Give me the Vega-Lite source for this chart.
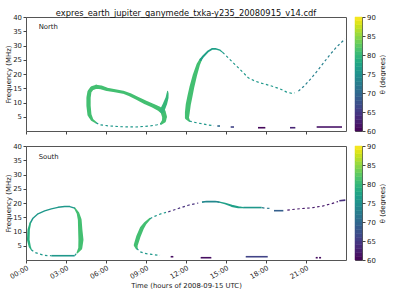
{
  "$schema": "https://vega.github.io/schema/vega-lite/v6.json",
  "autosize": {"type": "pad"},
  "padding": {"left": 4, "top": 8, "right": 0, "bottom": 0},
  "datasets": {
    "c": [
      {"p":"N","s":"N_L1","k":"band","i":1,"t":5.25,"f":2.9,"th":81,"w":0.12},
      {"p":"N","s":"N_L1","k":"band","i":2,"t":4.95,"f":3.96,"th":81,"w":0.2},
      {"p":"N","s":"N_L1","k":"band","i":3,"t":4.76,"f":5.7,"th":81,"w":0.3},
      {"p":"N","s":"N_L1","k":"band","i":4,"t":4.69,"f":8.86,"th":81,"w":0.32},
      {"p":"N","s":"N_L1","k":"band","i":5,"t":4.69,"f":11.7,"th":81,"w":0.32},
      {"p":"N","s":"N_L1","k":"band","i":6,"t":4.76,"f":13.8,"th":81,"w":0.3},
      {"p":"N","s":"N_L1","k":"band","i":7,"t":4.95,"f":15.0,"th":81,"w":0.3},
      {"p":"N","s":"N_L1","k":"band","i":8,"t":5.25,"f":15.5,"th":81,"w":0.3},
      {"p":"N","s":"N_L1","k":"band","i":9,"t":5.63,"f":15.3,"th":81,"w":0.28},
      {"p":"N","s":"N_L1","k":"band","i":10,"t":6.08,"f":14.6,"th":81,"w":0.25},
      {"p":"N","s":"N_L1","k":"band","i":11,"t":6.68,"f":14.1,"th":81,"w":0.22},
      {"p":"N","s":"N_L1","k":"band","i":12,"t":7.28,"f":13.6,"th":81,"w":0.22},
      {"p":"N","s":"N_L1","k":"band","i":13,"t":7.8,"f":12.7,"th":81,"w":0.24},
      {"p":"N","s":"N_L1","k":"band","i":14,"t":8.33,"f":11.5,"th":81,"w":0.26},
      {"p":"N","s":"N_L1","k":"band","i":15,"t":8.93,"f":10.1,"th":81,"w":0.28},
      {"p":"N","s":"N_L1","k":"band","i":16,"t":9.53,"f":8.86,"th":81,"w":0.3},
      {"p":"N","s":"N_L1","k":"band","i":17,"t":9.98,"f":7.8,"th":81,"w":0.33},
      {"p":"N","s":"N_L1","k":"band","i":18,"t":10.28,"f":6.76,"th":81,"w":0.38},
      {"p":"N","s":"N_L1","k":"band","i":19,"t":10.39,"f":5.0,"th":81,"w":0.36},
      {"p":"N","s":"N_L1","k":"band","i":20,"t":10.35,"f":3.6,"th":81,"w":0.3},
      {"p":"N","s":"N_L1","k":"band","i":21,"t":10.13,"f":2.55,"th":81,"w":0.15},
      {"p":"N","s":"N_S1","k":"band","i":1,"t":10.2,"f":7.1,"th":80,"w":0.35},
      {"p":"N","s":"N_S1","k":"band","i":2,"t":10.43,"f":9.56,"th":80,"w":0.3},
      {"p":"N","s":"N_S1","k":"band","i":3,"t":10.58,"f":11.66,"th":80,"w":0.22},
      {"p":"N","s":"N_S1","k":"band","i":4,"t":10.62,"f":13.2,"th":80,"w":0.15},
      {"p":"N","s":"N_S1","k":"band","i":5,"t":10.62,"f":13.9,"th":80,"w":0.08},
      {"p":"N","s":"N_A2a","k":"band","i":1,"t":12.25,"f":3.5,"th":81,"w":0.12},
      {"p":"N","s":"N_A2a","k":"band","i":2,"t":12.07,"f":4.65,"th":81,"w":0.3},
      {"p":"N","s":"N_A2a","k":"band","i":3,"t":12.1,"f":6.5,"th":81,"w":0.36},
      {"p":"N","s":"N_A2a","k":"band","i":4,"t":12.17,"f":9.3,"th":81,"w":0.38},
      {"p":"N","s":"N_A2a","k":"band","i":5,"t":12.3,"f":12.3,"th":81,"w":0.38},
      {"p":"N","s":"N_A2a","k":"band","i":6,"t":12.43,"f":15.2,"th":81,"w":0.36},
      {"p":"N","s":"N_A2a","k":"band","i":7,"t":12.68,"f":19.8,"th":81,"w":0.32},
      {"p":"N","s":"N_A2a","k":"band","i":8,"t":12.92,"f":23.3,"th":81,"w":0.26},
      {"p":"N","s":"N_A2a","k":"band","i":9,"t":13.1,"f":25.0,"th":81,"w":0.2},
      {"p":"N","s":"N_A2b","k":"band","i":1,"t":13.1,"f":25.0,"th":77,"w":0.17},
      {"p":"N","s":"N_A2b","k":"band","i":2,"t":13.3,"f":26.25,"th":77,"w":0.15},
      {"p":"N","s":"N_A2b","k":"band","i":3,"t":13.67,"f":28.0,"th":77,"w":0.14},
      {"p":"N","s":"N_A2b","k":"band","i":4,"t":13.95,"f":28.8,"th":77,"w":0.13},
      {"p":"N","s":"N_A2b","k":"band","i":5,"t":14.2,"f":28.85,"th":77,"w":0.12},
      {"p":"N","s":"N_A2b","k":"band","i":6,"t":14.55,"f":28.35,"th":77,"w":0.1},
      {"p":"N","s":"N_A2b","k":"band","i":7,"t":14.75,"f":27.6,"th":77,"w":0.07},
      {"p":"N","s":"N_D1","k":"dash","i":1,"t":5.25,"f":2.9,"th":76},
      {"p":"N","s":"N_D1","k":"dash","i":2,"t":5.55,"f":2.2,"th":76},
      {"p":"N","s":"N_D1","k":"dash","i":3,"t":6.08,"f":1.86,"th":76},
      {"p":"N","s":"N_D1","k":"dash","i":4,"t":6.45,"f":1.7,"th":76},
      {"p":"N","s":"N_D1","k":"dash","i":5,"t":7.2,"f":1.5,"th":76},
      {"p":"N","s":"N_D1","k":"dash","i":6,"t":8.18,"f":1.4,"th":76},
      {"p":"N","s":"N_D1","k":"dash","i":7,"t":9.3,"f":1.75,"th":76},
      {"p":"N","s":"N_D1","k":"dash","i":8,"t":9.83,"f":2.2,"th":76},
      {"p":"N","s":"N_D1","k":"dash","i":9,"t":10.13,"f":2.55,"th":76},
      {"p":"N","s":"N_D2","k":"dash","i":1,"t":12.25,"f":3.5,"th":76},
      {"p":"N","s":"N_D2","k":"dash","i":2,"t":12.68,"f":3.0,"th":76},
      {"p":"N","s":"N_D2","k":"dash","i":3,"t":13.18,"f":2.55,"th":76},
      {"p":"N","s":"N_D2","k":"dash","i":4,"t":13.67,"f":2.1,"th":76},
      {"p":"N","s":"N_D2","k":"dash","i":5,"t":14.1,"f":1.85,"th":76},
      {"p":"N","s":"N_D3","k":"dash","i":1,"t":14.75,"f":27.6,"th":76},
      {"p":"N","s":"N_D3","k":"dash","i":2,"t":14.93,"f":26.8,"th":76},
      {"p":"N","s":"N_D3","k":"dash","i":3,"t":15.3,"f":25.06,"th":76},
      {"p":"N","s":"N_D3","k":"dash","i":4,"t":15.68,"f":23.3,"th":76},
      {"p":"N","s":"N_D3","k":"dash","i":5,"t":16.18,"f":21.0,"th":76},
      {"p":"N","s":"N_D3","k":"dash","i":6,"t":16.67,"f":18.66,"th":76},
      {"p":"N","s":"N_D3","k":"dash","i":7,"t":17.18,"f":17.5,"th":76},
      {"p":"N","s":"N_D3","k":"dash","i":8,"t":17.55,"f":16.9,"th":76},
      {"p":"N","s":"N_D3","k":"dash","i":9,"t":18.3,"f":15.96,"th":76},
      {"p":"N","s":"N_D3","k":"dash","i":10,"t":19.05,"f":14.8,"th":76},
      {"p":"N","s":"N_D3","k":"dash","i":11,"t":19.55,"f":13.65,"th":76},
      {"p":"N","s":"N_D3","k":"dash","i":12,"t":19.93,"f":13.2,"th":76},
      {"p":"N","s":"N_D3","k":"dash","i":13,"t":20.15,"f":13.4,"th":76},
      {"p":"N","s":"N_D4","k":"dash","i":1,"t":20.43,"f":14.0,"th":73},
      {"p":"N","s":"N_D4","k":"dash","i":2,"t":20.8,"f":15.5,"th":73},
      {"p":"N","s":"N_D4","k":"dash","i":3,"t":21.3,"f":18.0,"th":73},
      {"p":"N","s":"N_D4","k":"dash","i":4,"t":21.8,"f":20.8,"th":73},
      {"p":"N","s":"N_D4","k":"dash","i":5,"t":22.3,"f":23.8,"th":73},
      {"p":"N","s":"N_D4","k":"dash","i":6,"t":22.8,"f":26.8,"th":73},
      {"p":"N","s":"N_D4","k":"dash","i":7,"t":23.3,"f":29.5,"th":73},
      {"p":"N","s":"N_D4","k":"dash","i":8,"t":23.93,"f":32.3,"th":73},
      {"p":"N","s":"N_B1","k":"bar","i":1,"t":14.35,"f":1.75,"th":70},
      {"p":"N","s":"N_B1","k":"bar","i":2,"t":14.55,"f":1.75,"th":70},
      {"p":"N","s":"N_B2","k":"bar","i":1,"t":15.35,"f":1.4,"th":66},
      {"p":"N","s":"N_B2","k":"bar","i":2,"t":15.6,"f":1.4,"th":66},
      {"p":"N","s":"N_B3","k":"bar","i":1,"t":17.4,"f":1.15,"th":60.5},
      {"p":"N","s":"N_B3","k":"bar","i":2,"t":17.95,"f":1.15,"th":60.5},
      {"p":"N","s":"N_B4","k":"bar","i":1,"t":19.8,"f":1.15,"th":63},
      {"p":"N","s":"N_B4","k":"bar","i":2,"t":20.2,"f":1.15,"th":63},
      {"p":"N","s":"N_B5","k":"bar","i":1,"t":21.8,"f":1.4,"th":61.5},
      {"p":"N","s":"N_B5","k":"bar","i":2,"t":23.7,"f":1.4,"th":61.5},

      {"p":"S","s":"S_L1","k":"band","i":1,"t":3.65,"f":18.2,"th":81,"w":0.1},
      {"p":"S","s":"S_L1","k":"band","i":2,"t":3.9,"f":16.4,"th":81,"w":0.2},
      {"p":"S","s":"S_L1","k":"band","i":3,"t":4.03,"f":14.1,"th":81,"w":0.28},
      {"p":"S","s":"S_L1","k":"band","i":4,"t":4.07,"f":10.6,"th":81,"w":0.32},
      {"p":"S","s":"S_L1","k":"band","i":5,"t":4.12,"f":7.1,"th":81,"w":0.38},
      {"p":"S","s":"S_L1","k":"band","i":6,"t":4.07,"f":4.17,"th":81,"w":0.3},
      {"p":"S","s":"S_L1","k":"band","i":7,"t":3.85,"f":2.6,"th":81,"w":0.12},
      {"p":"S","s":"S_L2","k":"band","i":1,"t":0.32,"f":12.9,"th":76,"w":0.12},
      {"p":"S","s":"S_L2","k":"band","i":2,"t":0.525,"f":14.67,"th":76,"w":0.11},
      {"p":"S","s":"S_L2","k":"band","i":3,"t":0.9,"f":16.2,"th":76,"w":0.1},
      {"p":"S","s":"S_L2","k":"band","i":4,"t":1.4,"f":17.25,"th":76,"w":0.1},
      {"p":"S","s":"S_L2","k":"band","i":5,"t":1.9,"f":17.95,"th":76,"w":0.1},
      {"p":"S","s":"S_L2","k":"band","i":6,"t":2.4,"f":18.5,"th":76,"w":0.1},
      {"p":"S","s":"S_L2","k":"band","i":7,"t":2.9,"f":18.76,"th":76,"w":0.1},
      {"p":"S","s":"S_L2","k":"band","i":8,"t":3.28,"f":18.76,"th":76,"w":0.1},
      {"p":"S","s":"S_L2","k":"band","i":9,"t":3.65,"f":18.2,"th":76,"w":0.1},
      {"p":"S","s":"S_L3","k":"band","i":1,"t":0.4,"f":3.6,"th":79,"w":0.08},
      {"p":"S","s":"S_L3","k":"band","i":2,"t":0.28,"f":4.76,"th":79,"w":0.16},
      {"p":"S","s":"S_L3","k":"band","i":3,"t":0.17,"f":7.1,"th":79,"w":0.2},
      {"p":"S","s":"S_L3","k":"band","i":4,"t":0.2,"f":10.6,"th":79,"w":0.18},
      {"p":"S","s":"S_L3","k":"band","i":5,"t":0.32,"f":12.9,"th":79,"w":0.12},
      {"p":"S","s":"S_A1","k":"band","i":1,"t":8.3,"f":4.06,"th":81,"w":0.15},
      {"p":"S","s":"S_A1","k":"band","i":2,"t":8.23,"f":5.2,"th":81,"w":0.3},
      {"p":"S","s":"S_A1","k":"band","i":3,"t":8.42,"f":8.15,"th":81,"w":0.32},
      {"p":"S","s":"S_A1","k":"band","i":4,"t":8.68,"f":11.06,"th":81,"w":0.3},
      {"p":"S","s":"S_A1","k":"band","i":5,"t":8.93,"f":12.8,"th":81,"w":0.22},
      {"p":"S","s":"S_A1","k":"band","i":6,"t":9.3,"f":14.5,"th":81,"w":0.12},
      {"p":"S","s":"S_A2","k":"band","i":1,"t":14.5,"f":20.3,"th":77,"w":0.09},
      {"p":"S","s":"S_A2","k":"band","i":2,"t":14.93,"f":19.8,"th":77,"w":0.12},
      {"p":"S","s":"S_A2","k":"band","i":3,"t":15.43,"f":19.0,"th":77,"w":0.16},
      {"p":"S","s":"S_A2","k":"band","i":4,"t":15.92,"f":18.5,"th":77,"w":0.16},
      {"p":"S","s":"S_A2","k":"band","i":5,"t":16.3,"f":18.4,"th":77,"w":0.1},
      {"p":"S","s":"S_D1","k":"dash","i":1,"t":0.4,"f":3.6,"th":76},
      {"p":"S","s":"S_D1","k":"dash","i":2,"t":0.65,"f":2.66,"th":76},
      {"p":"S","s":"S_D1","k":"dash","i":3,"t":1.03,"f":2.07,"th":76},
      {"p":"S","s":"S_D1","k":"dash","i":4,"t":1.4,"f":1.6,"th":76},
      {"p":"S","s":"S_D1","k":"dash","i":5,"t":1.9,"f":1.5,"th":76},
      {"p":"S","s":"S_D2","k":"dash","i":1,"t":3.65,"f":1.55,"th":76},
      {"p":"S","s":"S_D2","k":"dash","i":2,"t":3.85,"f":2.6,"th":76},
      {"p":"S","s":"S_D3","k":"dash","i":1,"t":8.3,"f":4.06,"th":76},
      {"p":"S","s":"S_D3","k":"dash","i":2,"t":8.55,"f":2.9,"th":76},
      {"p":"S","s":"S_D3","k":"dash","i":3,"t":8.93,"f":2.3,"th":76},
      {"p":"S","s":"S_D3","k":"dash","i":4,"t":9.43,"f":1.96,"th":76},
      {"p":"S","s":"S_D3","k":"dash","i":5,"t":10.05,"f":1.6,"th":76},
      {"p":"S","s":"S_D4","k":"dash","i":1,"t":9.3,"f":14.5,"th":76},
      {"p":"S","s":"S_D4","k":"dash","i":2,"t":9.68,"f":15.4,"th":76},
      {"p":"S","s":"S_D4","k":"dash","i":3,"t":10.18,"f":16.3,"th":76},
      {"p":"S","s":"S_D4","k":"dash","i":4,"t":10.5,"f":16.7,"th":76},
      {"p":"S","s":"S_D5","k":"dash","i":1,"t":10.67,"f":16.9,"th":64},
      {"p":"S","s":"S_D5","k":"dash","i":2,"t":11.42,"f":18.06,"th":64},
      {"p":"S","s":"S_D5","k":"dash","i":3,"t":12.17,"f":19.2,"th":64},
      {"p":"S","s":"S_D5","k":"dash","i":4,"t":12.92,"f":20.0,"th":64},
      {"p":"S","s":"S_D6","k":"dash","i":1,"t":17.7,"f":18.4,"th":72},
      {"p":"S","s":"S_D6","k":"dash","i":2,"t":17.9,"f":18.2,"th":72},
      {"p":"S","s":"S_D6","k":"dash","i":3,"t":18.43,"f":18.06,"th":72},
      {"p":"S","s":"S_D7","k":"dash","i":1,"t":19.6,"f":17.5,"th":62},
      {"p":"S","s":"S_D7","k":"dash","i":2,"t":19.93,"f":17.7,"th":62},
      {"p":"S","s":"S_D7","k":"dash","i":3,"t":20.68,"f":18.06,"th":62},
      {"p":"S","s":"S_D7","k":"dash","i":4,"t":21.43,"f":18.3,"th":62},
      {"p":"S","s":"S_D7","k":"dash","i":5,"t":22.3,"f":19.0,"th":62},
      {"p":"S","s":"S_D7","k":"dash","i":6,"t":22.93,"f":19.8,"th":62},
      {"p":"S","s":"S_D7","k":"dash","i":7,"t":23.4,"f":20.5,"th":62},
      {"p":"S","s":"S_B1","k":"bar","i":1,"t":10.85,"f":1.15,"th":61},
      {"p":"S","s":"S_B1","k":"bar","i":2,"t":11.05,"f":1.15,"th":61},
      {"p":"S","s":"S_B2","k":"bar","i":1,"t":13.1,"f":0.8,"th":61},
      {"p":"S","s":"S_B2","k":"bar","i":2,"t":13.9,"f":0.8,"th":61},
      {"p":"S","s":"S_B3","k":"bar","i":1,"t":16.48,"f":1.15,"th":66},
      {"p":"S","s":"S_B3","k":"bar","i":2,"t":18.13,"f":1.15,"th":66},
      {"p":"S","s":"S_B4","k":"bar","i":1,"t":21.73,"f":0.8,"th":61},
      {"p":"S","s":"S_B4","k":"bar","i":2,"t":21.88,"f":0.8,"th":61},
      {"p":"S","s":"S_B5","k":"bar","i":1,"t":21.98,"f":0.8,"th":61},
      {"p":"S","s":"S_B5","k":"bar","i":2,"t":22.13,"f":0.8,"th":61},
      {"p":"S","s":"S_B6","k":"bar","i":1,"t":1.9,"f":1.5,"th":76},
      {"p":"S","s":"S_B6","k":"bar","i":2,"t":3.65,"f":1.5,"th":76},
      {"p":"S","s":"S_B7","k":"bar","i":1,"t":13.2,"f":20.3,"th":74},
      {"p":"S","s":"S_B7","k":"bar","i":2,"t":13.55,"f":20.5,"th":74},
      {"p":"S","s":"S_B7","k":"bar","i":3,"t":14.18,"f":20.5,"th":74},
      {"p":"S","s":"S_B7","k":"bar","i":4,"t":14.5,"f":20.3,"th":74},
      {"p":"S","s":"S_B8","k":"bar","i":1,"t":16.3,"f":18.4,"th":76},
      {"p":"S","s":"S_B8","k":"bar","i":2,"t":17.68,"f":18.4,"th":76},
      {"p":"S","s":"S_B9","k":"bar","i":1,"t":18.6,"f":17.3,"th":69},
      {"p":"S","s":"S_B9","k":"bar","i":2,"t":19.3,"f":17.3,"th":69},
      {"p":"S","s":"S_B10","k":"bar","i":1,"t":23.5,"f":20.8,"th":64},
      {"p":"S","s":"S_B10","k":"bar","i":2,"t":23.95,"f":21.0,"th":64}
    ],
    "cb": [
      {"lo":60,"hi":61,"mid":60.5},{"lo":61,"hi":62,"mid":61.5},{"lo":62,"hi":63,"mid":62.5},{"lo":63,"hi":64,"mid":63.5},{"lo":64,"hi":65,"mid":64.5},
      {"lo":65,"hi":66,"mid":65.5},{"lo":66,"hi":67,"mid":66.5},{"lo":67,"hi":68,"mid":67.5},{"lo":68,"hi":69,"mid":68.5},{"lo":69,"hi":70,"mid":69.5},
      {"lo":70,"hi":71,"mid":70.5},{"lo":71,"hi":72,"mid":71.5},{"lo":72,"hi":73,"mid":72.5},{"lo":73,"hi":74,"mid":73.5},{"lo":74,"hi":75,"mid":74.5},
      {"lo":75,"hi":76,"mid":75.5},{"lo":76,"hi":77,"mid":76.5},{"lo":77,"hi":78,"mid":77.5},{"lo":78,"hi":79,"mid":78.5},{"lo":79,"hi":80,"mid":79.5},
      {"lo":80,"hi":81,"mid":80.5},{"lo":81,"hi":82,"mid":81.5},{"lo":82,"hi":83,"mid":82.5},{"lo":83,"hi":84,"mid":83.5},{"lo":84,"hi":85,"mid":84.5},
      {"lo":85,"hi":86,"mid":85.5},{"lo":86,"hi":87,"mid":86.5},{"lo":87,"hi":88,"mid":87.5},{"lo":88,"hi":89,"mid":88.5},{"lo":89,"hi":90,"mid":89.5}
    ]
  },
  "vconcat": [
    {
      "hconcat": [
        {
          "width": 320, "height": 114,
          "title": {"text": "expres_earth_jupiter_ganymede_txka-y235_20080915_v14.cdf", "anchor": "middle", "offset": -4},
          "encoding": {
            "x": {"field": "t", "type": "quantitative", "scale": {"domain": [0, 24], "nice": false, "zero": false},
                  "axis": {"values": [0, 3, 6, 9, 12, 15, 18, 21], "labels": false, "title": null}},
            "y": {"field": "f", "type": "quantitative", "scale": {"domain": [0, 40], "nice": false, "zero": false},
                  "axis": {"values": [5, 10, 15, 20, 25, 30, 35, 40], "title": "Frequency (MHz)", "titlePadding": 1}}
          },
          "layer": [
            {
              "data": {"name": "c"},
              "transform": [{"filter": "datum.p === 'N' && datum.k === 'band'"}],
              "mark": {"type": "trail"},
              "encoding": {
                "order": {"field": "i", "type": "quantitative"},
                "detail": {"field": "s"},
                "color": {"field": "th", "type": "quantitative", "scale": {"scheme": "viridis", "domain": [60, 90]}, "legend": null},
                "size": {"field": "w", "type": "quantitative", "scale": {"type": "linear", "domain": [0, 1], "range": [0, 13.33]}, "legend": null}
              }
            },
            {
              "data": {"name": "c"},
              "transform": [{"filter": "datum.p === 'N' && datum.k === 'dash'"}],
              "mark": {"type": "line", "strokeWidth": 1.2, "strokeDash": [2.5, 2.5]},
              "encoding": {
                "order": {"field": "i", "type": "quantitative"},
                "detail": {"field": "s"},
                "color": {"field": "th", "type": "quantitative", "legend": null}
              }
            },
            {
              "data": {"name": "c"},
              "transform": [{"filter": "datum.p === 'N' && datum.k === 'bar'"}],
              "mark": {"type": "line", "strokeWidth": 1.6},
              "encoding": {
                "order": {"field": "i", "type": "quantitative"},
                "detail": {"field": "s"},
                "color": {"field": "th", "type": "quantitative", "legend": null}
              }
            },
            {
              "data": {"values": [{"t": 0.95, "f": 36.4, "label": "North"}]},
              "mark": {"type": "text", "align": "left", "baseline": "middle", "fontSize": 6.9, "color": "#222"},
              "encoding": {
                "text": {"field": "label"}
              }
            }
          ]
        },
        {
          "width": 7, "height": 114,
          "data": {"name": "cb"},
          "mark": {"type": "rect", "strokeWidth": 0.5},
          "encoding": {
            "x": {"datum": 0, "type": "quantitative", "scale": {"domain": [0, 1]}, "axis": null},
            "x2": {"datum": 1},
            "y": {"field": "lo", "type": "quantitative", "scale": {"domain": [60, 90], "nice": false, "zero": false},
                  "axis": {"orient": "right", "values": [60, 65, 70, 75, 80, 85, 90], "title": "θ (degrees)", "titleAngle": 270, "titleBaseline": "top", "titlePadding": 4}},
            "y2": {"field": "hi"},
            "color": {"field": "mid", "type": "quantitative", "scale": {"scheme": "viridis", "domain": [60, 90]}, "legend": null},
            "stroke": {"field": "mid", "type": "quantitative", "scale": {"scheme": "viridis", "domain": [60, 90]}, "legend": null}
          }
        }
      ],
      "spacing": 9,
      "bounds": "flush"
    },
    {
      "hconcat": [
        {
          "width": 320, "height": 114,
          "encoding": {
            "x": {"field": "t", "type": "quantitative", "scale": {"domain": [0, 24], "nice": false, "zero": false},
                  "axis": {"values": [0, 3, 6, 9, 12, 15, 18, 21], "title": "Time (hours of 2008-09-15 UTC)",
                           "labelExpr": "(datum.value < 10 ? '0' : '') + datum.value + ':00'",
                           "labelAngle": -30, "labelAlign": "right", "labelBaseline": "top", "labelFlush": false, "titlePadding": 3}},
            "y": {"field": "f", "type": "quantitative", "scale": {"domain": [0, 40], "nice": false, "zero": false},
                  "axis": {"values": [5, 10, 15, 20, 25, 30, 35, 40], "title": "Frequency (MHz)", "titlePadding": 1}}
          },
          "layer": [
            {
              "data": {"name": "c"},
              "transform": [{"filter": "datum.p === 'S' && datum.k === 'band'"}],
              "mark": {"type": "trail"},
              "encoding": {
                "order": {"field": "i", "type": "quantitative"},
                "detail": {"field": "s"},
                "color": {"field": "th", "type": "quantitative", "scale": {"scheme": "viridis", "domain": [60, 90]}, "legend": null},
                "size": {"field": "w", "type": "quantitative", "scale": {"type": "linear", "domain": [0, 1], "range": [0, 13.33]}, "legend": null}
              }
            },
            {
              "data": {"name": "c"},
              "transform": [{"filter": "datum.p === 'S' && datum.k === 'dash'"}],
              "mark": {"type": "line", "strokeWidth": 1.2, "strokeDash": [2.5, 2.5]},
              "encoding": {
                "order": {"field": "i", "type": "quantitative"},
                "detail": {"field": "s"},
                "color": {"field": "th", "type": "quantitative", "legend": null}
              }
            },
            {
              "data": {"name": "c"},
              "transform": [{"filter": "datum.p === 'S' && datum.k === 'bar'"}],
              "mark": {"type": "line", "strokeWidth": 1.6},
              "encoding": {
                "order": {"field": "i", "type": "quantitative"},
                "detail": {"field": "s"},
                "color": {"field": "th", "type": "quantitative", "legend": null}
              }
            },
            {
              "data": {"values": [{"t": 0.95, "f": 36.2, "label": "South"}]},
              "mark": {"type": "text", "align": "left", "baseline": "middle", "fontSize": 6.9, "color": "#222"},
              "encoding": {
                "text": {"field": "label"}
              }
            }
          ]
        },
        {
          "width": 7, "height": 114,
          "data": {"name": "cb"},
          "mark": {"type": "rect", "strokeWidth": 0.5},
          "encoding": {
            "x": {"datum": 0, "type": "quantitative", "scale": {"domain": [0, 1]}, "axis": null},
            "x2": {"datum": 1},
            "y": {"field": "lo", "type": "quantitative", "scale": {"domain": [60, 90], "nice": false, "zero": false},
                  "axis": {"orient": "right", "values": [60, 65, 70, 75, 80, 85, 90], "title": "θ (degrees)", "titleAngle": 270, "titleBaseline": "top", "titlePadding": 4}},
            "y2": {"field": "hi"},
            "color": {"field": "mid", "type": "quantitative", "scale": {"scheme": "viridis", "domain": [60, 90]}, "legend": null},
            "stroke": {"field": "mid", "type": "quantitative", "scale": {"scheme": "viridis", "domain": [60, 90]}, "legend": null}
          }
        }
      ],
      "spacing": 9,
      "bounds": "flush"
    }
  ],
  "spacing": 6,
  "config": {
    "font": "DejaVu Sans",
    "view": {"stroke": "#555", "strokeWidth": 1},
    "axis": {"grid": false, "domain": false, "tickColor": "#444", "tickSize": 3, "labelFontSize": 6.9, "titleFontSize": 6.9,
             "labelColor": "#222", "titleColor": "#222", "titleFontWeight": "normal", "labelPadding": 1.5, "titlePadding": 4},
    "title": {"fontSize": 8.3, "fontWeight": "normal", "color": "#111"}
  }
}
